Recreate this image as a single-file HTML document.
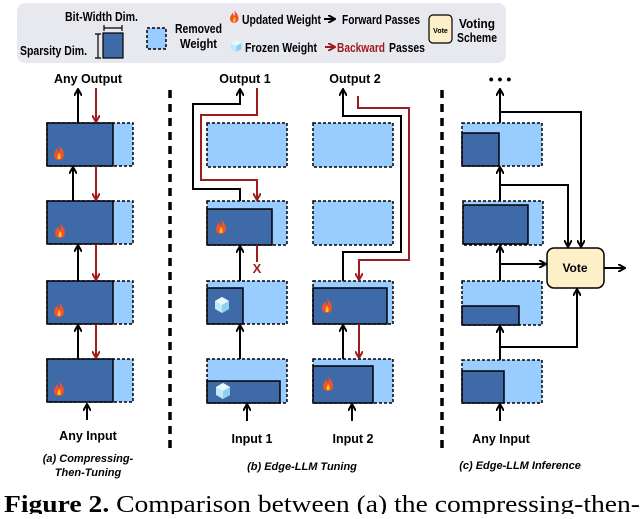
<!DOCTYPE html>
<html><head><meta charset="utf-8"><style>
body{margin:0;width:640px;height:514px;overflow:hidden;background:#fff}
text{font-family:"Liberation Sans",sans-serif;font-weight:bold}
</style></head><body>
<svg width="640" height="514" viewBox="0 0 640 514" xmlns="http://www.w3.org/2000/svg">
<defs>
<marker id="ab" markerWidth="8" markerHeight="8" refX="6" refY="4" orient="auto" markerUnits="userSpaceOnUse"><path d="M0,0 L7,4 L0,8" fill="none" stroke="#000" stroke-width="2"/></marker>
<marker id="ar" markerWidth="8" markerHeight="8" refX="6" refY="4" orient="auto" markerUnits="userSpaceOnUse"><path d="M0,0 L7,4 L0,8" fill="none" stroke="#a01c1c" stroke-width="2"/></marker>
<g id="fire"><path d="M5,0 C8,4 10,6 10,10 C10,13 8,15 5,15 C2,15 0,13 0,10 C0,7 2,6 3,3 C4,5 4,6 5,7 C6,5 6,3 5,0Z" fill="#f0522a"/><path d="M5,8 C7,10 7,12 6,14 L4,14 C3,12 4,10 5,8Z" fill="#ffc020"/></g>
<g id="ice"><path d="M7,0 L14,4 L14,12 L7,16 L0,12 L0,4Z" fill="#bfe8fb"/><path d="M7,0 L14,4 L7,8 L0,4Z" fill="#e8f8ff"/><path d="M7,8 L14,4 L14,12 L7,16Z" fill="#8fd0f0"/></g>
</defs>
<rect x="17" y="3" width="489" height="60" rx="8" fill="#e8e9ee"/>
<text x="65" y="21" font-size="12.5" textLength="73" lengthAdjust="spacingAndGlyphs">Bit-Width Dim.</text>
<text x="20" y="55" font-size="12.5" textLength="67" lengthAdjust="spacingAndGlyphs">Sparsity Dim.</text>
<rect x="103" y="33" width="20" height="25" fill="#3f6aa8" stroke="#000" stroke-width="1.2"/>
<path d="M104,28 H122 M104,25 v6 M122,25 v6 M98,34 V58 M95,34 H101 M95,58 H101" stroke="#000" stroke-width="1.2"/>
<rect x="147" y="28" width="19" height="21" fill="#99ccff" stroke="#000" stroke-dasharray="3,2" stroke-width="1.5"/>
<text x="175" y="33" font-size="12.5" textLength="47" lengthAdjust="spacingAndGlyphs">Removed</text>
<text x="180" y="48" font-size="12.5" textLength="37" lengthAdjust="spacingAndGlyphs">Weight</text>
<use href="#fire" transform="translate(230,10) scale(0.85)"/>
<text x="242" y="24" font-size="12.5" textLength="79" lengthAdjust="spacingAndGlyphs">Updated Weight</text>
<line x1="324" y1="19" x2="334" y2="19" stroke="#000" stroke-width="2" marker-end="url(#ab)"/>
<text x="342" y="24" font-size="12.5" textLength="78" lengthAdjust="spacingAndGlyphs">Forward Passes</text>
<use href="#ice" transform="translate(231,40) scale(0.75)"/>
<text x="245" y="52" font-size="12.5" textLength="72" lengthAdjust="spacingAndGlyphs">Frozen Weight</text>
<line x1="325" y1="47" x2="334" y2="47" stroke="#a01c1c" stroke-width="2" marker-end="url(#ar)"/>
<text x="337" y="52" font-size="12.5" fill="#a01c1c" textLength="48" lengthAdjust="spacingAndGlyphs">Backward</text>
<text x="389" y="52" font-size="12.5" textLength="36" lengthAdjust="spacingAndGlyphs">Passes</text>
<rect x="429" y="15" width="23" height="28" rx="4" fill="#fdf0c8" stroke="#000" stroke-width="1.2"/>
<text x="440.5" y="33" font-size="7" text-anchor="middle">Vote</text>
<text x="477" y="28" font-size="12.5" text-anchor="middle" textLength="36" lengthAdjust="spacingAndGlyphs">Voting</text>
<text x="477" y="42" font-size="12.5" text-anchor="middle" textLength="40" lengthAdjust="spacingAndGlyphs">Scheme</text>

<line x1="170" y1="90" x2="170" y2="448" stroke="#000" stroke-width="3.5" stroke-dasharray="8,6"/>
<line x1="442" y1="90" x2="442" y2="448" stroke="#000" stroke-width="3.5" stroke-dasharray="8,6"/>

<g stroke-width="1.5">
<rect x="47" y="123" width="86" height="43" fill="#99ccff" stroke="#000" stroke-dasharray="3,2"/>
<rect x="47" y="123" width="66" height="43" fill="#3f6aa8" stroke="#000"/>
<rect x="47" y="201" width="86" height="43" fill="#99ccff" stroke="#000" stroke-dasharray="3,2"/>
<rect x="47" y="201" width="66" height="43" fill="#3f6aa8" stroke="#000"/>
<rect x="47" y="281" width="86" height="43" fill="#99ccff" stroke="#000" stroke-dasharray="3,2"/>
<rect x="47" y="281" width="66" height="43" fill="#3f6aa8" stroke="#000"/>
<rect x="47" y="359" width="86" height="43" fill="#99ccff" stroke="#000" stroke-dasharray="3,2"/>
<rect x="47" y="359" width="66" height="43" fill="#3f6aa8" stroke="#000"/>
</g>
<use href="#fire" transform="translate(54,145)"/>
<use href="#fire" transform="translate(55,223)"/>
<use href="#fire" transform="translate(54,302)"/>
<use href="#fire" transform="translate(54,381)"/>
<g stroke-width="2" fill="none">
<line x1="78" y1="123" x2="78" y2="90" stroke="#000" marker-end="url(#ab)"/>
<line x1="96" y1="88" x2="96" y2="121" stroke="#a01c1c" marker-end="url(#ar)"/>
<line x1="73" y1="201" x2="73" y2="168" stroke="#000" marker-end="url(#ab)"/>
<line x1="96" y1="166" x2="96" y2="199" stroke="#a01c1c" marker-end="url(#ar)"/>
<line x1="78" y1="281" x2="78" y2="246" stroke="#000" marker-end="url(#ab)"/>
<line x1="96" y1="244" x2="96" y2="279" stroke="#a01c1c" marker-end="url(#ar)"/>
<line x1="78" y1="359" x2="78" y2="326" stroke="#000" marker-end="url(#ab)"/>
<line x1="96" y1="324" x2="96" y2="357" stroke="#a01c1c" marker-end="url(#ar)"/>
<line x1="87" y1="420" x2="87" y2="405" stroke="#000" marker-end="url(#ab)"/>
</g>
<text x="88" y="83" font-size="12.5" text-anchor="middle">Any Output</text>
<text x="88" y="440" font-size="12.5" text-anchor="middle">Any Input</text>
<text x="88" y="462" font-size="11" text-anchor="middle" font-style="italic">(a) Compressing-</text>
<text x="88" y="476" font-size="11" text-anchor="middle" font-style="italic">Then-Tuning</text>

<g stroke-width="1.5">
<rect x="207" y="123" width="80" height="44" fill="#99ccff" stroke="#000" stroke-dasharray="3,2"/>
<rect x="207" y="201" width="80" height="44" fill="#99ccff" stroke="#000" stroke-dasharray="3,2"/>
<rect x="207" y="209" width="65" height="36" fill="#3f6aa8" stroke="#000"/>
<rect x="207" y="281" width="80" height="43" fill="#99ccff" stroke="#000" stroke-dasharray="3,2"/>
<rect x="207" y="288" width="36" height="36" fill="#3f6aa8" stroke="#000"/>
<rect x="207" y="359" width="80" height="44" fill="#99ccff" stroke="#000" stroke-dasharray="3,2"/>
<rect x="207" y="381" width="73" height="22" fill="#3f6aa8" stroke="#000"/>
<rect x="313" y="123" width="80" height="44" fill="#99ccff" stroke="#000" stroke-dasharray="3,2"/>
<rect x="313" y="201" width="80" height="44" fill="#99ccff" stroke="#000" stroke-dasharray="3,2"/>
<rect x="313" y="281" width="80" height="43" fill="#99ccff" stroke="#000" stroke-dasharray="3,2"/>
<rect x="313" y="288" width="74" height="36" fill="#3f6aa8" stroke="#000"/>
<rect x="313" y="359" width="80" height="44" fill="#99ccff" stroke="#000" stroke-dasharray="3,2"/>
<rect x="313" y="366" width="60" height="37" fill="#3f6aa8" stroke="#000"/>
</g>
<use href="#fire" transform="translate(216,219)"/>
<use href="#ice" transform="translate(215,297)"/>
<use href="#ice" transform="translate(216,383)"/>
<use href="#fire" transform="translate(322,298)"/>
<use href="#fire" transform="translate(323,376)"/>
<g stroke-width="2" fill="none">
<polyline points="240,201 240,189 193,189 193,104 240,104 240,90" stroke="#000" marker-end="url(#ab)"/>
<polyline points="257,88 257,115 201,115 201,180 257,180 257,199" stroke="#a01c1c" marker-end="url(#ar)"/>
<line x1="257" y1="245" x2="257" y2="262" stroke="#a01c1c"/>
<line x1="240" y1="281" x2="240" y2="247" stroke="#000" marker-end="url(#ab)"/>
<line x1="240" y1="359" x2="240" y2="326" stroke="#000" marker-end="url(#ab)"/>
<line x1="247" y1="421" x2="247" y2="405" stroke="#000" marker-end="url(#ab)"/>
<polyline points="343,281 343,252 401,252 401,116 343,116 343,90" stroke="#000" marker-end="url(#ab)"/>
<polyline points="358,96 358,108 409,108 409,260 359,260 359,279" stroke="#a01c1c" marker-end="url(#ar)"/>
<line x1="343" y1="359" x2="343" y2="326" stroke="#000" marker-end="url(#ab)"/>
<line x1="359" y1="324" x2="359" y2="357" stroke="#a01c1c" marker-end="url(#ar)"/>
<line x1="352" y1="421" x2="352" y2="405" stroke="#000" marker-end="url(#ab)"/>
</g>
<text x="257" y="273" font-size="13" fill="#a01c1c" text-anchor="middle">X</text>
<text x="245" y="83" font-size="12.5" text-anchor="middle">Output 1</text>
<text x="355" y="83" font-size="12.5" text-anchor="middle">Output 2</text>
<text x="252" y="443" font-size="12.5" text-anchor="middle">Input 1</text>
<text x="353" y="443" font-size="12.5" text-anchor="middle">Input 2</text>
<text x="302" y="470" font-size="11" text-anchor="middle" font-style="italic">(b) Edge-LLM Tuning</text>

<g stroke-width="1.5">
<rect x="462" y="123" width="80" height="43" fill="#99ccff" stroke="#000" stroke-dasharray="3,2"/>
<rect x="462" y="133" width="37" height="33" fill="#3f6aa8" stroke="#000"/>
<rect x="463" y="201" width="80" height="44" fill="#99ccff" stroke="#000" stroke-dasharray="3,2"/>
<rect x="463" y="205" width="65" height="39" fill="#3f6aa8" stroke="#000"/>
<rect x="462" y="281" width="80" height="44" fill="#99ccff" stroke="#000" stroke-dasharray="3,2"/>
<rect x="462" y="306" width="57" height="19" fill="#3f6aa8" stroke="#000"/>
<rect x="462" y="360" width="80" height="43" fill="#99ccff" stroke="#000" stroke-dasharray="3,2"/>
<rect x="462" y="371" width="42" height="32" fill="#3f6aa8" stroke="#000"/>
<rect x="547" y="248" width="57" height="40" rx="7" fill="#fdf0c8" stroke="#000"/>
</g>
<g stroke-width="2" fill="none" stroke="#000">
<line x1="500" y1="123" x2="500" y2="90" marker-end="url(#ab)"/>
<polyline points="500,112 581,112 581,246" marker-end="url(#ab)"/>
<line x1="500" y1="201" x2="500" y2="168" marker-end="url(#ab)"/>
<polyline points="500,185 568,185 568,246" marker-end="url(#ab)"/>
<line x1="500" y1="281" x2="500" y2="247" marker-end="url(#ab)"/>
<line x1="500" y1="264" x2="545" y2="264" marker-end="url(#ab)"/>
<line x1="500" y1="360" x2="500" y2="327" marker-end="url(#ab)"/>
<polyline points="500,347 577,347 577,290" marker-end="url(#ab)"/>
<line x1="604" y1="268" x2="624" y2="268" marker-end="url(#ab)"/>
<line x1="500" y1="421" x2="500" y2="405" marker-end="url(#ab)"/>
</g>
<text x="500" y="84" font-size="14" text-anchor="middle">• • •</text>
<text x="575" y="272" font-size="12" text-anchor="middle">Vote</text>
<text x="501" y="443" font-size="12.5" text-anchor="middle">Any Input</text>
<text x="520" y="469" font-size="11" text-anchor="middle" font-style="italic">(c) Edge-LLM Inference</text>

<text x="4" y="512" font-size="24" textLength="636" lengthAdjust="spacingAndGlyphs" style="font-family:'Liberation Serif',serif;font-weight:normal"><tspan font-weight="bold">Figure 2.</tspan> Comparison between (a) the compressing-then-</text>
</svg>
</body></html>
